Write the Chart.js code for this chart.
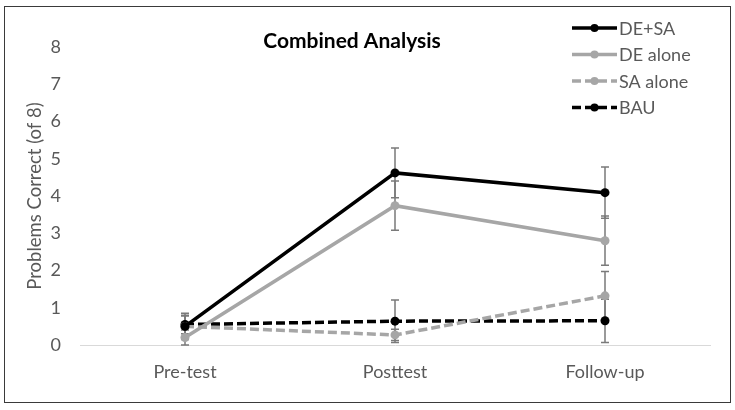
<!DOCTYPE html>
<html>
<head>
<meta charset="utf-8">
<script src="https://cdn.jsdelivr.net/npm/chart.js@4"></script>
<style>
  body { margin: 0; background: #fff; }
  #wrap { position: relative; width: 735px; height: 410px; }
  #frame { position: absolute; left: 4px; top: 6px; width: 725px; height: 395px; border: 1.5px solid #3a3a3a; }
  canvas { position: absolute; left: 0; top: 0; }
</style>
</head>
<body>
<div id="wrap">
  <div id="frame"></div>
  <canvas id="chart" width="735" height="410"></canvas>
</div>
<script>
const categories = ["Pre-test", "Posttest", "Follow-up"];
const seriesNames = ["DE+SA", "DE alone", "SA alone", "BAU"];

const deSa = [0.5, 4.62, 4.09];
const deAlone = [0.2, 3.74, 2.8];
const saAlone = [0.5, 0.27, 1.32];
const bau = [0.55, 0.64, 0.65];

// error bar half-widths
const deSaErr = [0.35, 0.67, 0.69];
const deAloneErr = [0.2, 0.66, 0.66];
const saAloneErr = [0.28, 0.15, 0.65];
const bauErr = [0.25, 0.57, 0.58];

const yTicks = [0, 1, 2, 3, 4, 5, 6, 7, 8];

const FONT = "Lato";
const TEXT = "#595959";

function series(label, data, errors, color, dashed) {
  return {
    label: label,
    data: data,
    errors: errors,
    borderColor: color,
    backgroundColor: color,
    borderWidth: 3.5,
    borderDash: dashed ? [9, 4] : [],
    pointRadius: 4.5,
    pointHoverRadius: 4.5,
    pointBorderWidth: 0,
    tension: 0,
  };
}

// vertical error bars drawn with the chart scales
const errorBars = {
  id: "errorBars",
  beforeDatasetsDraw(chart) {
    const { ctx, scales } = chart;
    ctx.save();
    ctx.strokeStyle = "#7a7a7a";
    ctx.lineWidth = 1.5;
    chart.data.datasets.forEach((ds) => {
      ds.data.forEach((v, i) => {
        const x = scales.x.getPixelForValue(i);
        const top = scales.y.getPixelForValue(v + ds.errors[i]);
        const bot = scales.y.getPixelForValue(Math.max(0, v - ds.errors[i]));
        ctx.beginPath();
        ctx.moveTo(x, top); ctx.lineTo(x, bot);
        ctx.moveTo(x - 4, top); ctx.lineTo(x + 4, top);
        ctx.moveTo(x - 4, bot); ctx.lineTo(x + 4, bot);
        ctx.stroke();
      });
    });
    ctx.restore();
  },
};

// legend with line + marker samples, and the chart title
const extras = {
  id: "extras",
  afterDraw(chart) {
    const { ctx } = chart;
    ctx.save();
    ctx.font = "bold 21px " + FONT;
    ctx.fillStyle = "#000";
    ctx.textAlign = "center";
    ctx.textBaseline = "middle";
    ctx.fillText("Combined Analysis", 352, 41);

    ctx.font = "18px " + FONT;
    ctx.textAlign = "left";
    chart.data.datasets.forEach((ds, i) => {
      const y = 28 + i * 26.5;
      ctx.strokeStyle = ds.borderColor;
      ctx.lineWidth = ds.borderWidth;
      ctx.setLineDash(ds.borderDash);
      ctx.beginPath();
      ctx.moveTo(572, y); ctx.lineTo(617, y);
      ctx.stroke();
      ctx.setLineDash([]);
      ctx.fillStyle = ds.borderColor;
      ctx.beginPath();
      ctx.arc(594.5, y, 4, 0, Math.PI * 2);
      ctx.fill();
      ctx.fillStyle = TEXT;
      ctx.fillText(ds.label, 619, y + 1);
    });
    ctx.restore();
  },
};

new Chart(document.getElementById("chart").getContext("2d"), {
  type: "line",
  data: {
    labels: categories,
    datasets: [
      series(seriesNames[0], deSa, deSaErr, "#000000", false),
      series(seriesNames[1], deAlone, deAloneErr, "#a6a6a6", false),
      series(seriesNames[2], saAlone, saAloneErr, "#a6a6a6", true),
      series(seriesNames[3], bau, bauErr, "#000000", true),
    ],
  },
  options: {
    responsive: false,
    animation: false,
    events: [],
    layout: { padding: { top: 47, right: 25, bottom: 0, left: 0 } },
    plugins: {
      legend: { display: false },
      tooltip: { enabled: false },
    },
    scales: {
      x: {
        offset: true,
        grid: { display: false, drawTicks: false },
        border: { color: "#d9d9d9", width: 1 },
        ticks: { color: TEXT, font: { family: FONT, size: 18 }, padding: 16 },
        afterFit: (s) => { s.height = 65; },
      },
      y: {
        min: 0,
        max: 8,
        grid: { display: false, drawTicks: false },
        border: { display: false },
        afterBuildTicks: (s) => { s.ticks = yTicks.map((v) => ({ value: v })); },
        ticks: { color: TEXT, font: { family: FONT, size: 18 }, padding: 19 },
        title: {
          display: true,
          text: "Problems Correct (of 8)",
          color: TEXT,
          font: { family: FONT, size: 18.5 },
          padding: { top: 24, bottom: 0 },
        },
        afterFit: (s) => { s.width = 80; },
      },
    },
  },
  plugins: [errorBars, extras],
});
</script>
</body>
</html>
